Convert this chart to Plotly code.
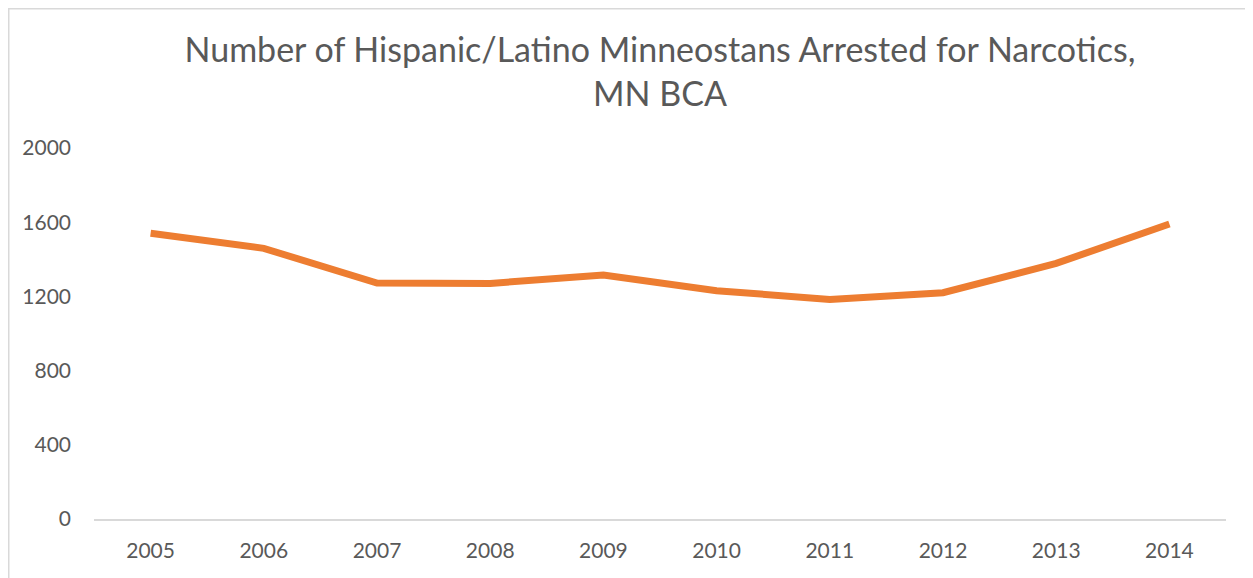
import plotly.graph_objects as go

years = ["2005", "2006", "2007", "2008", "2009", "2010", "2011", "2012", "2013", "2014"]
arrests = [1540, 1459, 1272, 1270, 1315, 1231, 1184, 1220, 1378, 1590]
y_ticks = [0, 400, 800, 1200, 1600, 2000]

# page has an 8px body margin, so figure coords = page coords - 8
W, H = 1245, 570
ml, mr, mt, mb = 86, 27, 140, 59
pw, ph = W - ml - mr, H - mt - mb

def px_x(p):
    return (p - ml) / pw

def px_y(p):
    return (H - mb - p) / ph

fig = go.Figure()
fig.add_trace(go.Scatter(
    x=years, y=arrests, mode="lines",
    line=dict(color="#ED7D31", width=7),
    hoverinfo="x+y", showlegend=False,
))

fig.update_layout(
    width=W, height=H,
    margin=dict(l=ml, r=mr, t=mt, b=mb),
    paper_bgcolor="white", plot_bgcolor="white",
    font=dict(family="Lato, sans-serif", color="#595959"),
    title=dict(
        text="Number of Hispanic/Latino Minneostans Arrested for Narcotics,<br>MN BCA",
        x=0.5, xanchor="center", xref="paper",
        y=1 - 54 / H, yanchor="top",
        font=dict(size=34, color="#595959", family="Lato, sans-serif"),
    ),
    xaxis=dict(
        type="category", range=[-0.5, 9.5], showgrid=False, zeroline=False,
        showline=True, linecolor="#d9d9d9", linewidth=2,
        ticks="", tickfont=dict(size=21, color="#595959"),
        ticklabelstandoff=12,
    ),
    yaxis=dict(
        range=[0, 2000], tickvals=y_ticks, showgrid=False, zeroline=False,
        showline=False, ticks="", tickfont=dict(size=21, color="#595959"),
        ticklabelstandoff=22,
    ),
    shapes=[dict(
        type="rect", xref="paper", yref="paper",
        x0=px_x(0.75), x1=px_x(1242), y0=px_y(600), y1=px_y(0.75),
        line=dict(color="#d9d9d9", width=1.5), fillcolor="rgba(0,0,0,0)",
        layer="below",
    )],
)

fig.write_html("out.html")
